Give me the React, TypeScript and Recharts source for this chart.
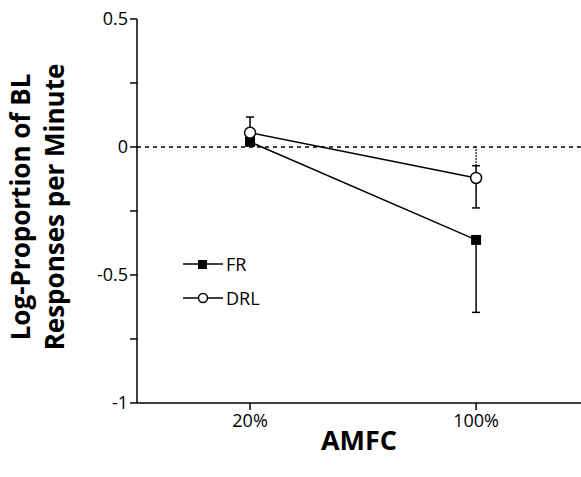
import React from "react";
import {
  LineChart,
  Line,
  XAxis,
  YAxis,
  ErrorBar,
  ReferenceLine,
} from "recharts";

// categories (AMFC) and series values
const categories = ["20%", "100%"];
const frValues = [0.02, -0.363];
const drlValues = [0.056, -0.121];
// [below, above] error lengths
const frErrors = [
  [0, 0],
  [0.283, 0],
];
const drlErrors = [
  [0, 0.061],
  [0.117, 0.048],
];
// dotted upper part of DRL error at 100%
const drlDotted = [-0.073, 0];
const yTicks = [-1, -0.75, -0.5, -0.25, 0, 0.25, 0.5];
const yLabels = ["-1", "-0.5", "0", "0.5"];
const seriesNames = ["FR", "DRL"];

const FONT = "'Open Sans', 'Noto Sans', sans-serif";

const data = categories.map((c, i) => ({
  x: i,
  name: c,
  fr: frValues[i],
  drl: drlValues[i],
  frErr: frErrors[i],
  drlErr: drlErrors[i],
}));

const Square = (props: any) => {
  const { cx, cy } = props;
  if (cx == null || cy == null) return null;
  return <rect x={cx - 5} y={cy - 5} width={10} height={10} fill="#000" />;
};

const Circle = (props: any) => {
  const { cx, cy } = props;
  if (cx == null || cy == null) return null;
  return <circle cx={cx} cy={cy} r={5.5} fill="#fff" stroke="#000" strokeWidth={1.5} />;
};

const LegendBox = () => (
  <div
    style={{
      position: "absolute",
      left: 183,
      top: 247,
      fontFamily: FONT,
      fontSize: 18,
      color: "#000",
    }}
  >
    {seriesNames.map((label, i) => (
      <div key={label} style={{ display: "flex", alignItems: "center", height: 34 }}>
        <svg width={42} height={14}>
          <line x1={0} y1={7} x2={40} y2={7} stroke="#000" strokeWidth={1.5} />
          {i === 0 ? (
            <rect x={15} y={3} width={9} height={9} fill="#000" />
          ) : (
            <circle cx={20} cy={7} r={4.5} fill="#fff" stroke="#000" strokeWidth={1.5} />
          )}
        </svg>
        <span style={{ marginLeft: 1 }}>{label}</span>
      </div>
    ))}
  </div>
);

const YLabel = () => {
  const cy = 207;
  return (
    <text
      transform={`translate(0, ${cy}) rotate(-90)`}
      textAnchor="middle"
      fontFamily={FONT}
      fontWeight="bold"
      fontSize={26}
      fill="#000"
    >
      <tspan x={0} y={30}>Log-Proportion of BL</tspan>
      <tspan x={0} y={64}>Responses per Minute</tspan>
    </text>
  );
};

export default function App() {
  return (
    <div style={{ position: "absolute", left: 0, top: 0, width: 581, height: 477, background: "#fff" }}>
      <LineChart
        width={581}
        height={477}
        data={data}
        margin={{ top: 19, right: 0, left: 77, bottom: 44 }}
      >
        <XAxis
          type="number"
          dataKey="x"
          domain={[-0.5, 1.464]}
          allowDataOverflow
          ticks={[0, 1]}
          tickFormatter={(v) => categories[v] ?? ""}
          stroke="#000"
          strokeWidth={1.5}
          tickSize={7}
          tickMargin={4}
          height={30}
          tick={{ fill: "#000", fontSize: 18, fontFamily: FONT }}
          label={{
            value: "AMFC",
            position: "insideBottom",
            offset: -17,
            fill: "#000",
            fontSize: 27,
            fontWeight: "bold",
            fontFamily: FONT,
          }}
        />
        <YAxis
          type="number"
          domain={[-1, 0.5]}
          ticks={yTicks}
          interval={0}
          width={60}
          tickFormatter={(v) => {
            const s = String(v);
            return yLabels.includes(s) ? s : "";
          }}
          stroke="#000"
          strokeWidth={1.5}
          tickSize={7}
          tickMargin={2}
          tick={{ fill: "#000", fontSize: 18, fontFamily: FONT }}
          label={{ content: YLabel }}
        />
        <ReferenceLine y={0} stroke="#000" strokeWidth={1.5} strokeDasharray="4 4" />
        <ReferenceLine
          segment={[
            { x: 1, y: drlDotted[0] },
            { x: 1, y: drlDotted[1] },
          ]}
          stroke="#000"
          strokeWidth={1.5}
          strokeDasharray="1.5 1.5"
        />
        <Line
          dataKey="fr"
          stroke="#000"
          strokeWidth={1.5}
          dot={<Square />}
          activeDot={false}
          isAnimationActive={false}
        >
          <ErrorBar dataKey="frErr" width={4} stroke="#000" strokeWidth={1.5} direction="y" isAnimationActive={false} />
        </Line>
        <Line
          dataKey="drl"
          stroke="#000"
          strokeWidth={1.5}
          dot={<Circle />}
          activeDot={false}
          isAnimationActive={false}
        >
          <ErrorBar dataKey="drlErr" width={4} stroke="#000" strokeWidth={1.5} direction="y" isAnimationActive={false} />
        </Line>
      </LineChart>
      <LegendBox />
    </div>
  );
}
